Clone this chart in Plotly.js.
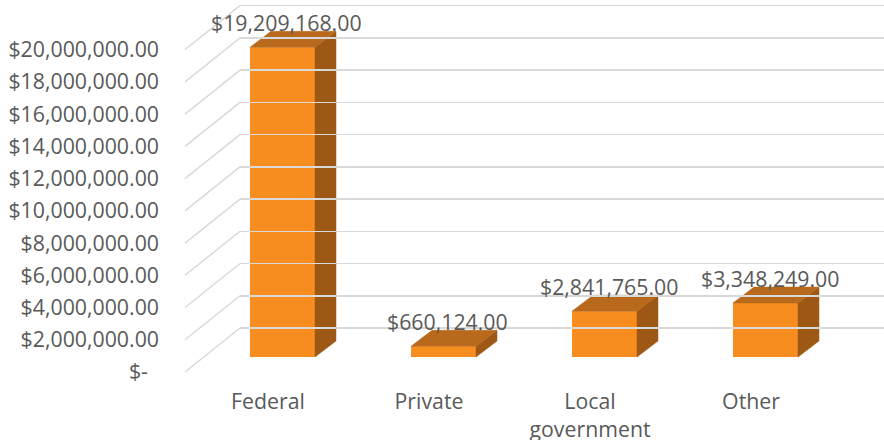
<!DOCTYPE html>
<html>
<head>
<meta charset="utf-8">
<script src="https://cdn.plot.ly/plotly-3.0.1.min.js"></script>
<style>html,body{margin:0;padding:0;background:#fff}#chart{width:884px;height:440px}</style>
</head>
<body>
<div id="chart"></div>
<script>
// ---- data ----
const categories = ["Federal", "Private", "Local government", "Other"];
const categoryLabels = ["Federal", "Private", "Local<br>government", "Other"];
const values = [19209168, 660124, 2841765, 3348249];
const tickValues = [0, 2000000, 4000000, 6000000, 8000000, 10000000, 12000000, 14000000, 16000000, 18000000, 20000000];

// ---- formatting ----
function money(v) {
  if (v === 0) return "$-\u00a0\u00a0";
  return "$" + v.toLocaleString("en-US", {minimumFractionDigits: 2, maximumFractionDigits: 2});
}
const tickText = tickValues.map(money);

// ---- geometry (pixels) ----
const W = 884, H = 440;
const mL = 185, mR = 0, mT = 0, mB = 68;
const plotW = W - mL - mR, plotH = H - mT - mB;
const pxPerUnit = 16.12 / 1e6;         // pixels per dollar
const wallDX = 55, wallDY = 44;        // back wall offset
const barDY = 15;                      // bar plane above front floor edge
const barDepthX = 21, barDepthY = 16;  // bar depth
const catStep = 161;
const labelCat0 = 268 - mL;            // category label centre
const barCat0 = 282.5 - mL;            // bar front centre
const barWpx = 65;

const yFrontRange = [0, plotH / pxPerUnit];
const yBarRange = [-barDY / pxPerUnit, (plotH - barDY) / pxPerUnit];
const yWallRange = [-wallDY / pxPerUnit, (plotH - wallDY) / pxPerUnit];
const xFrontRange = [-labelCat0 / catStep, (plotW - labelCat0) / catStep];
const xBarRange = [-barCat0 / catStep, (plotW - barCat0) / catStep];

const cFront = "#F78D1F", cSide = "#9C5814", cTop = "#B9691B";
const textColor = "#595959";
const fontFam = "'Open Sans', sans-serif";
const fs = 21.3;

const xIdx = categories.map((_, i) => i);
const halfW = barWpx / catStep / 2;
const dxU = barDepthX / catStep;
const dyU = barDepthY / pxPerUnit;

const traces = [];
traces.push({
  type: "bar", x: xIdx, y: values, xaxis: "x2", yaxis: "y2",
  width: barWpx / catStep, marker: {color: cFront, line: {width: 0}},
  hoverinfo: "skip", showlegend: false
});
values.forEach((v, i) => {
  const xl = i - halfW, xr = i + halfW;
  traces.push({
    type: "scatter", mode: "lines", xaxis: "x2", yaxis: "y2", fill: "toself",
    x: [xr, xr + dxU, xr + dxU, xr, xr], y: [0, dyU, v + dyU, v, 0],
    fillcolor: cSide, line: {width: 0.5, color: cSide}, hoverinfo: "skip", showlegend: false
  });
  traces.push({
    type: "scatter", mode: "lines", xaxis: "x2", yaxis: "y2", fill: "toself",
    x: [xl, xr, xr + dxU, xl + dxU, xl], y: [v, v, v + dyU, v + dyU, v],
    fillcolor: cTop, line: {width: 0.5, color: cTop}, hoverinfo: "skip", showlegend: false
  });
});
// invisible trace to establish main axes
traces.push({type: "scatter", mode: "markers", x: xIdx, y: values.map(() => null), xaxis: "x", yaxis: "y", hoverinfo: "skip", showlegend: false});
// wall axis anchor trace
traces.push({type: "scatter", mode: "markers", x: [0], y: [null], xaxis: "x3", yaxis: "y3", hoverinfo: "skip", showlegend: false});

// side-wall diagonals
const shapes = tickValues.map(v => ({
  type: "line", xref: "paper", yref: "y",
  x0: 0, x1: wallDX / plotW, y0: v, y1: v + wallDY / pxPerUnit,
  line: {color: "#D9D9D9", width: 1.5}, layer: "below"
}));

const annotations = values.map((v, i) => ({
  xref: "x2", yref: "y2", x: i + 4 / catStep, y: v, yshift: barDepthY + 8.5,
  text: money(v), showarrow: false, xanchor: "center", yanchor: "middle",
  font: {family: fontFam, size: fs, color: textColor}
}));

const layout = {
  width: W, height: H,
  margin: {l: mL, r: mR, t: mT, b: mB, pad: 0},
  paper_bgcolor: "#fff", plot_bgcolor: "rgba(0,0,0,0)",
  showlegend: false,
  font: {family: fontFam, size: fs, color: textColor},
  xaxis: {domain: [0, 1], range: xFrontRange, tickvals: xIdx, ticktext: categoryLabels,
    showgrid: false, zeroline: false, showline: false, ticks: "", ticklabelstandoff: 15,
    fixedrange: true, tickfont: {family: fontFam, size: fs, color: textColor}},
  yaxis: {domain: [0, 1], range: yFrontRange, tickvals: tickValues, ticktext: tickText,
    showgrid: false, zeroline: false, showline: false, ticks: "", ticklabelstandoff: 25,
    fixedrange: true, tickfont: {family: fontFam, size: fs, color: textColor}},
  xaxis2: {overlaying: "x", range: xBarRange, visible: false, fixedrange: true},
  yaxis2: {overlaying: "y", range: yBarRange, visible: false, fixedrange: true},
  xaxis3: {domain: [wallDX / plotW, 1], anchor: "y3", range: [0, 1], showgrid: false, zeroline: false,
    showticklabels: false, ticks: "", showline: false, fixedrange: true},
  yaxis3: {domain: [0, 1], anchor: "x3", range: yWallRange, tickvals: tickValues, showticklabels: false,
    showgrid: true, gridcolor: "#D9D9D9", gridwidth: 1.5, zeroline: false, ticks: "", showline: false, fixedrange: true},
  shapes: shapes,
  annotations: annotations
};

Plotly.newPlot("chart", traces, layout, {displayModeBar: false, staticPlot: true});
</script>
</body>
</html>
